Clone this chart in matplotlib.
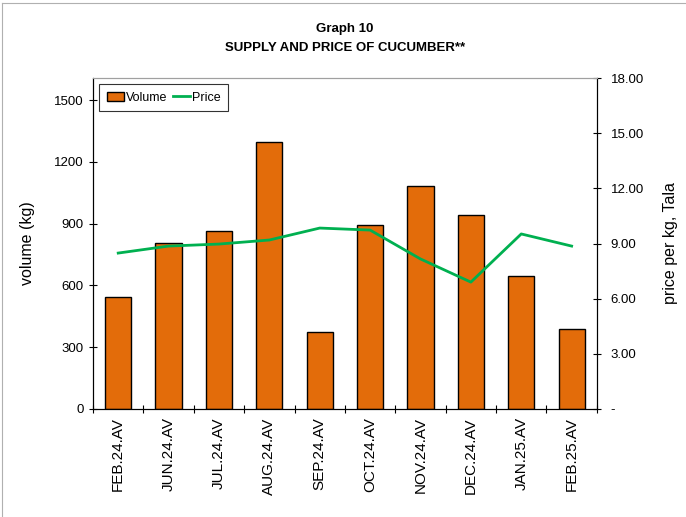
import matplotlib.pyplot as plt
import numpy as np

plt.rcParams["font.family"] = ["Liberation Sans", "DejaVu Sans"]

# Data
months = ["FEB.24.AV", "JUN.24.AV", "JUL.24.AV", "AUG.24.AV", "SEP.24.AV",
          "OCT.24.AV", "NOV.24.AV", "DEC.24.AV", "JAN.25.AV", "FEB.25.AV"]
volume = [543, 808, 862, 1295, 374, 893, 1085, 940, 645, 390]
price = [8.48, 8.86, 8.97, 9.19, 9.84, 9.73, 8.16, 6.90, 9.52, 8.86]

left_ticks = [0, 300, 600, 900, 1200, 1500]
right_ticks = [0, 3, 6, 9, 12, 15, 18]
right_tick_labels = ["-", "3.00", "6.00", "9.00", "12.00", "15.00", "18.00"]

ORANGE = "#E36C0A"
GREEN = "#00B050"

fig = plt.figure(figsize=(6.86, 5.17), dpi=100)
ax = fig.add_axes([0.1356, 0.2089, 0.7344, 0.6402])
x = np.arange(len(months))

bars = ax.bar(x, volume, width=0.52, color=ORANGE, edgecolor="black",
              linewidth=1.0, label="Volume", zorder=2)
ax.set_xlim(-0.5, len(months) - 0.5)
ax.set_ylim(0, 1607)
ax.set_yticks(left_ticks)
ax.set_xticks(x)
ax.set_xticklabels(months, rotation=90, fontsize=11)
ax.set_xticks(np.arange(-0.5, len(months)), minor=True)
ax.tick_params(axis="x", which="major", length=0, pad=6)
ax.tick_params(axis="x", which="minor", length=6, direction="inout", width=0.8)
ax.tick_params(axis="y", length=6, direction="inout", width=0.8, labelsize=9.5)
ax.set_ylabel("volume (kg)", fontsize=11.5, labelpad=14)
ax.spines["top"].set_color("#a0a0a0")

ax2 = ax.twinx()
line, = ax2.plot(x, price, color=GREEN, linewidth=2, label="Price", zorder=3)
ax2.set_ylim(0, 18)
ax2.set_yticks(right_ticks)
ax2.set_yticklabels(right_tick_labels)
ax2.tick_params(axis="y", length=6, direction="inout", width=0.8, labelsize=9.5, pad=7)
ax2.set_ylabel("price per kg, Tala", fontsize=11.5, labelpad=14)
ax2.spines["top"].set_color("#a0a0a0")

leg = ax.legend([bars, line], ["Volume", "Price"], loc="upper left", ncol=2,
                fontsize=9, frameon=True, fancybox=False, edgecolor="black",
                handlelength=1.4, handletextpad=0.15, columnspacing=0.4,
                borderaxespad=0.5, borderpad=0.6)
leg.get_frame().set_linewidth(0.8)

fig.text(0.503, 0.943, "Graph 10", ha="center", va="center",
         fontsize=9.5, fontweight="bold")
fig.text(0.503, 0.908, "SUPPLY AND PRICE OF CUCUMBER**", ha="center", va="center",
         fontsize=9.5, fontweight="bold")

fig.add_artist(plt.Line2D([0.003, 0.003], [0.0, 0.995], color="#b0b0b0", linewidth=0.8))
fig.add_artist(plt.Line2D([0.003, 1.0], [0.995, 0.995], color="#b0b0b0", linewidth=0.8))

fig.savefig("out.png", dpi=100)
